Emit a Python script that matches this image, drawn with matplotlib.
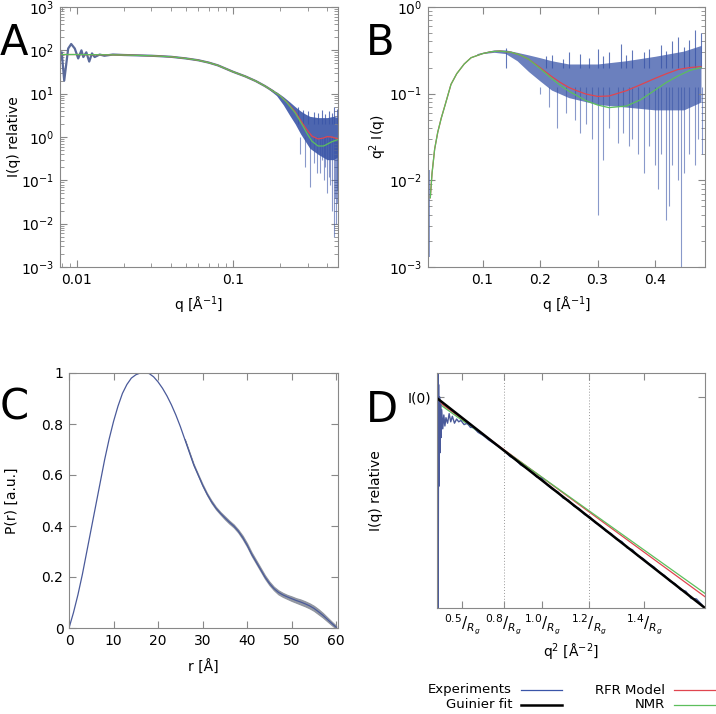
import matplotlib
matplotlib.use("Agg")
import matplotlib.pyplot as plt
from matplotlib.lines import Line2D
from matplotlib.ticker import FixedLocator, FuncFormatter, NullFormatter, LogLocator

# ---- Panel A : I(q) log-log ----
qA = [0.008, 0.01, 0.015, 0.02, 0.03, 0.04, 0.05, 0.06, 0.07, 0.08, 0.1, 0.12, 0.14,
      0.16, 0.18, 0.2, 0.22, 0.25, 0.28, 0.3, 0.32, 0.35, 0.38, 0.4, 0.43, 0.46, 0.47]
rfrA = [80, 80, 79, 78, 75, 71, 65, 59, 52, 45, 32, 25, 19.5,
        15, 11.5, 9, 6.5, 3.8, 2.0, 1.4, 1.05, 0.9, 0.95, 1.02, 1.0, 0.92, 0.9]
nmrA = [80, 80, 79, 78, 75, 71, 65, 59, 52, 45, 32, 25, 19.5,
        15, 11.5, 9, 6.4, 3.6, 1.8, 1.15, 0.8, 0.62, 0.62, 0.68, 0.78, 0.85, 0.87]
expA_q = [0.0078, 0.008, 0.0083, 0.0088, 0.0092, 0.0097, 0.0102, 0.0107, 0.011, 0.0115,
          0.012, 0.0125, 0.013, 0.014, 0.015, 0.017, 0.02, 0.03, 0.04, 0.05, 0.06, 0.07,
          0.08, 0.1, 0.12, 0.14, 0.16, 0.18]
expA_I = [60, 90, 20, 110, 140, 110, 65, 100, 70, 90,
          55, 85, 70, 80, 75, 80, 78, 75, 71, 65, 59, 52,
          45, 32, 25, 19.5, 15, 11.5]
bandA_q = [0.17, 0.19, 0.21, 0.23, 0.25, 0.27, 0.29, 0.31, 0.35, 0.4, 0.44, 0.47]
bandA_hi = [13.5, 11, 8.5, 6.5, 5, 4, 3.4, 3.0, 2.8, 2.8, 3.0, 2.8]
bandA_lo = [12.5, 9, 5.5, 3.2, 2.0, 1.2, 0.8, 0.55, 0.4, 0.3, 0.3, 0.35]
spikeA_q = [0.27, 0.29, 0.31, 0.33, 0.345, 0.36, 0.37, 0.38, 0.39, 0.4, 0.41, 0.42,
            0.43, 0.44, 0.45, 0.455, 0.46, 0.465]
spikeA_lo = [0.4, 0.2, 0.07, 0.25, 0.15, 0.15, 0.3, 0.1, 0.2, 0.05, 0.12, 0.08,
             0.02, 0.005, 0.04, 0.01, 0.06, 0.03]
upA_q = [0.26, 0.28, 0.3, 0.33, 0.35, 0.37, 0.39, 0.41, 0.43, 0.44, 0.46]
upA_hi = [4.8, 4.2, 4, 3.8, 3.5, 4.2, 3.4, 4, 3.6, 5, 4.5]

# ---- Panel B : q^2 I(q) ----
qB = [0.009, 0.012, 0.0166, 0.022, 0.028, 0.035, 0.045, 0.055, 0.068, 0.08, 0.1, 0.115,
      0.13, 0.15, 0.165, 0.18, 0.2, 0.22, 0.235, 0.25, 0.264, 0.28, 0.3, 0.32, 0.35,
      0.375, 0.4, 0.42, 0.44, 0.46, 0.48]
rfrB = [0.0063, 0.012, 0.023, 0.036, 0.052, 0.075, 0.128, 0.17, 0.22, 0.26, 0.29, 0.305,
        0.31, 0.30, 0.28, 0.25, 0.2, 0.158, 0.135, 0.118, 0.108, 0.099, 0.093, 0.094, 0.108,
        0.127, 0.15, 0.17, 0.19, 0.2, 0.205]
nmrB = [0.0063, 0.012, 0.023, 0.036, 0.052, 0.075, 0.128, 0.17, 0.22, 0.26, 0.29, 0.305,
        0.31, 0.30, 0.28, 0.25, 0.195, 0.15, 0.125, 0.107, 0.095, 0.083, 0.074, 0.069, 0.072,
        0.085, 0.11, 0.135, 0.16, 0.185, 0.2]
bandB_q = [0.09, 0.1, 0.12, 0.14, 0.16, 0.18, 0.2, 0.22, 0.25, 0.3, 0.35, 0.4, 0.45, 0.48]
bandB_hi = [0.29, 0.30, 0.32, 0.32, 0.30, 0.28, 0.26, 0.24, 0.22, 0.22, 0.24, 0.27, 0.31, 0.36]
bandB_lo = [0.28, 0.29, 0.30, 0.29, 0.24, 0.18, 0.14, 0.11, 0.09, 0.075, 0.07, 0.065, 0.065,
            0.08]
spikeB_q = [0.2, 0.215, 0.23, 0.245, 0.26, 0.27, 0.28, 0.29, 0.3, 0.31, 0.32, 0.335, 0.345,
            0.355, 0.36, 0.37, 0.38, 0.39, 0.4, 0.405, 0.41, 0.42, 0.425, 0.43, 0.44, 0.445,
            0.45, 0.46, 0.47, 0.475, 0.482]
spikeB_lo = [0.1, 0.07, 0.04, 0.06, 0.05, 0.035, 0.045, 0.03, 0.004, 0.017, 0.04, 0.027,
             0.035, 0.025, 0.03, 0.02, 0.012, 0.025, 0.015, 0.008, 0.02, 0.0035, 0.005,
             0.015, 0.01, 0.001, 0.012, 0.02, 0.015, 0.03, 0.02]
upB_q = [0.14, 0.21, 0.22, 0.24, 0.25, 0.27, 0.285, 0.3, 0.31, 0.32, 0.34, 0.35, 0.36,
         0.38, 0.39, 0.41, 0.42, 0.43, 0.44, 0.45, 0.46, 0.47, 0.48]
upB_hi = [0.34, 0.27, 0.28, 0.25, 0.3, 0.29, 0.26, 0.33, 0.27, 0.3, 0.37, 0.28, 0.32,
          0.3, 0.33, 0.36, 0.31, 0.4, 0.45, 0.35, 0.42, 0.55, 0.5]
lowB_q = [0.0075]
lowB_lo = [0.0013]
lowB_hi = [0.013]

# ---- Panel C : P(r) ----
r = [0, 1, 2, 3, 4, 5, 6, 7, 8, 9, 10, 11, 12, 13, 14, 15, 16, 17, 18, 19, 20, 21, 22, 23,
     24, 25, 26, 27, 28, 29, 30, 31, 32, 33, 34, 35, 36, 37, 38, 39, 40, 41, 42, 43, 44, 45,
     46, 47, 48, 49, 50, 51, 52, 53, 54, 55, 56, 57, 58, 59, 60]
pr = [0, 0.06, 0.13, 0.21, 0.30, 0.39, 0.48, 0.57, 0.66, 0.74, 0.81, 0.87, 0.92, 0.955,
      0.98, 0.993, 1.0, 1.0, 0.998, 0.985, 0.965, 0.94, 0.91, 0.875, 0.835, 0.79, 0.74, 0.69,
      0.64, 0.60, 0.56, 0.525, 0.495, 0.47, 0.45, 0.432, 0.415, 0.40, 0.38, 0.355, 0.325,
      0.29, 0.26, 0.23, 0.2, 0.175, 0.155, 0.14, 0.13, 0.122, 0.115, 0.108, 0.102, 0.095,
      0.087, 0.077, 0.064, 0.05, 0.034, 0.018, 0.003]
# error half-width, for r = 26 .. 60
pr_err = [0.001, 0.002, 0.003, 0.003, 0.004, 0.004, 0.005, 0.005, 0.005, 0.006,
          0.006, 0.006, 0.006, 0.007, 0.007, 0.007, 0.007, 0.007, 0.007, 0.007,
          0.007, 0.008, 0.008, 0.008, 0.009, 0.009, 0.01, 0.01, 0.01, 0.01,
          0.01, 0.009, 0.008, 0.007, 0.006]

# ---- Panel D : Guinier plot (x = q^2 Rg^2) ----
guin_x = [0.016, 2.53]
guin_y = [0.9947, 0.4302]
rfrD_y = [0.985, 0.450]
nmrD_y = [0.978, 0.456]
expD_x = [0.018, 0.021, 0.024, 0.027, 0.031, 0.035, 0.04, 0.045, 0.05, 0.055, 0.06, 0.07,
          0.08, 0.09, 0.1, 0.115, 0.13, 0.145, 0.16, 0.18, 0.2, 0.22, 0.24, 0.27, 0.3, 0.33,
          0.36, 0.4, 0.45, 0.5, 0.55, 0.6, 0.65, 0.7, 0.75, 0.8, 0.85, 0.9, 0.95, 1.0, 1.05,
          1.1, 1.15, 1.2, 1.25, 1.3, 1.35, 1.4, 1.45, 1.5, 1.55, 1.6, 1.65, 1.7, 1.75, 1.8,
          1.85, 1.9, 1.95, 2.0, 2.05, 2.1, 2.15, 2.2, 2.25, 2.3, 2.35, 2.4, 2.45, 2.5]
expD_y = [1.15, 0.42, 1.15, 0.42, 1.05, 0.7, 1.0, 0.8, 0.97, 0.85, 0.95, 0.88,
          0.93, 0.89, 0.92, 0.9, 0.935, 0.905, 0.925, 0.9, 0.915, 0.905, 0.91, 0.895, 0.9,
          0.885, 0.885, 0.868, 0.857, 0.842, 0.830, 0.818, 0.806, 0.788, 0.780, 0.762,
          0.753, 0.742, 0.726, 0.722, 0.703, 0.691, 0.684, 0.667, 0.662, 0.646, 0.640,
          0.625, 0.619, 0.605, 0.598, 0.585, 0.579, 0.566, 0.561, 0.547, 0.543, 0.530,
          0.524, 0.514, 0.507, 0.496, 0.490, 0.479, 0.474, 0.463, 0.460, 0.447, 0.446, 0.436]
rg_marks = [0.5, 0.8, 1.0, 1.2, 1.4]
rg_dotted = [0.8, 1.2]

blue = "#3a55a8"
red = "#e0454f"
green = "#5cbf5c"
frame = "#888888"

plt.rcParams["font.family"] = "DejaVu Sans"
plt.rcParams["font.size"] = 10

W, H = 716, 714
fig = plt.figure(figsize=(W / 100, H / 100), dpi=100)


def box(l, t, rr, b):
    return [l / W, 1 - b / H, (rr - l) / W, (b - t) / H]


def style(ax):
    for s in ax.spines.values():
        s.set_color(frame)
    ax.tick_params(which="both", direction="in", top=True, right=True, color=frame,
                   labelsize=10, pad=4)
    ax.tick_params(which="major", length=5)
    ax.tick_params(which="minor", length=3)


# A
axA = fig.add_axes(box(60, 7, 338, 267))
axA.set_xscale("log")
axA.set_yscale("log")
axA.fill_between(bandA_q, bandA_lo, bandA_hi, color=blue, lw=0, alpha=0.9)
axA.vlines(spikeA_q, spikeA_lo, [1.0] * len(spikeA_q), color=blue, lw=0.8, alpha=0.6)
axA.vlines(upA_q, [2.0] * len(upA_q), upA_hi, color=blue, lw=0.8, alpha=0.8)
axA.plot(expA_q, expA_I, color="#5a6a9a", lw=1.6)
axA.plot(qA, rfrA, color=red, lw=0.9)
axA.plot(qA, nmrA, color=green, lw=0.9)
axA.set_xlim(0.0078, 0.47)
axA.set_ylim(1e-3, 1e3)
axA.set_xticks([0.01, 0.1])
axA.set_xticklabels(["0.01", "0.1"])
axA.xaxis.set_minor_formatter(NullFormatter())
axA.yaxis.set_major_locator(LogLocator(base=10, numticks=10))
axA.set_xlabel("q [Å$^{-1}$]", labelpad=6)
axA.set_ylabel("I(q) relative", labelpad=0)
style(axA)

# B
axB = fig.add_axes(box(428, 7, 705, 267))
axB.set_yscale("log")
axB.fill_between(bandB_q, bandB_lo, bandB_hi, color=blue, lw=0, alpha=0.75)
axB.vlines(spikeB_q, spikeB_lo, [0.12] * len(spikeB_q), color=blue, lw=0.8, alpha=0.6)
axB.vlines(upB_q, [0.2] * len(upB_q), upB_hi, color=blue, lw=0.8, alpha=0.8)
axB.vlines(lowB_q, lowB_lo, lowB_hi, color=blue, lw=1.2, alpha=0.7)
axB.plot(qB, rfrB, color=red, lw=0.9)
axB.plot(qB, nmrB, color=green, lw=0.9)
axB.set_xlim(0.005, 0.487)
axB.set_ylim(1e-3, 1)
axB.set_xticks([0.1, 0.2, 0.3, 0.4])
axB.set_xticklabels(["0.1", "0.2", "0.3", "0.4"])
axB.set_xlabel("q [Å$^{-1}$]", labelpad=6)
axB.set_ylabel("q$^2$ I(q)", labelpad=0)
style(axB)

# C
axC = fig.add_axes(box(69, 373, 338, 628))
lo = [p - e for p, e in zip(pr[26:], pr_err)]
hi = [p + e for p, e in zip(pr[26:], pr_err)]
axC.fill_between(r[26:], lo, hi, color="#8a8f9a", lw=0.8, edgecolor="#8a8f9a", alpha=0.9)
axC.plot(r, pr, color="#4a5a9a", lw=0.9)
axC.set_xlim(0, 60.4)
axC.set_ylim(0, 1)
axC.set_xticks([0, 10, 20, 30, 40, 50, 60])
axC.set_yticks([0, 0.2, 0.4, 0.6, 0.8, 1.0])
axC.yaxis.set_major_formatter(FuncFormatter(lambda v, p: "%g" % v))
axC.set_xlabel("r [Å]", labelpad=9)
axC.set_ylabel("P(r) [a.u.]", labelpad=16)
style(axC)

# D
axD = fig.add_axes(box(437, 373, 705, 608))
axD.set_yscale("log")
for m in rg_dotted:
    axD.axvline(m ** 2, color="#999999", lw=0.7, ls=(0, (1, 2)))
axD.plot(guin_x, rfrD_y, color=red, lw=0.9)
axD.plot(guin_x, nmrD_y, color=green, lw=0.9)
axD.plot(expD_x, expD_y, color="#4a5a9a", lw=1.0)
axD.plot(guin_x, guin_y, color="black", lw=1.8)
axD.set_xlim(0.016, 2.53)
axD.set_ylim(0.4302, 1.0998)
axD.xaxis.set_major_locator(FixedLocator([m ** 2 for m in rg_marks]))
axD.set_xticklabels(["$^{%.1f}/_{R_g}$" % m for m in rg_marks])
axD.yaxis.set_major_locator(FixedLocator([1.0]))
axD.yaxis.set_minor_locator(FixedLocator([]))
axD.set_yticklabels(["I(0)"])
axD.yaxis.set_minor_formatter(NullFormatter())
axD.set_xlabel("q$^2$ [Å$^{-2}$]", labelpad=4)
axD.set_ylabel("I(q) relative", labelpad=18)
style(axD)
axD.tick_params(axis="x", labelsize=11, pad=3)

# panel letters
for letter, x, y in [("A", 0, 43), ("B", 366, 43), ("C", 0, 408), ("D", 366, 410)]:
    fig.text(x / W, 1 - y / H, letter, fontsize=30, va="center", ha="left")

# legend
leg = [("Experiments", 512, 521, 562, 690, blue, 0.9),
       ("Guinier fit", 512, 521, 562, 705, "black", 1.8),
       ("RFR Model", 665, 674, 716, 690, red, 0.9),
       ("NMR", 665, 674, 716, 705, green, 0.9)]
for name, tx, x0, x1, y, col, lw in leg:
    fig.text(tx / W, 1 - y / H, name, ha="right", va="center", fontsize=9.5)
    fig.add_artist(Line2D([x0 / W, x1 / W], [1 - y / H, 1 - y / H], color=col, lw=lw))

fig.savefig("out.png", dpi=100)
